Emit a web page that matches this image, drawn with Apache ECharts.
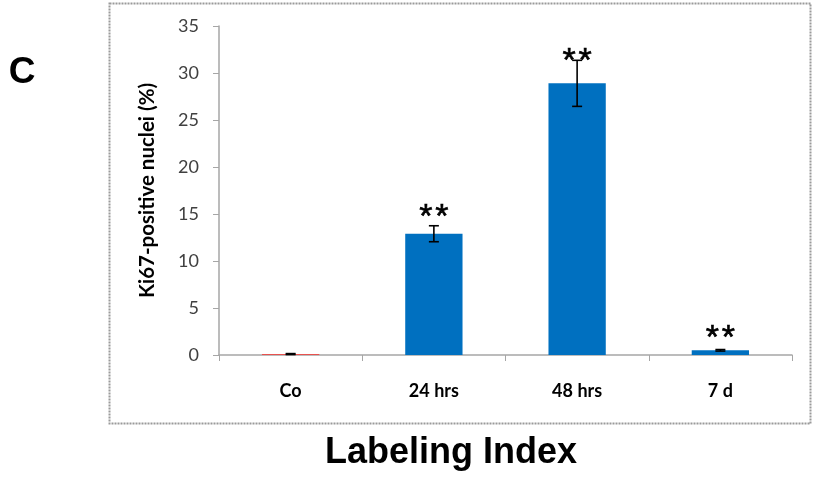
<!DOCTYPE html>
<html>
<head>
<meta charset="utf-8">
<script src="https://cdn.jsdelivr.net/npm/echarts@6/dist/echarts.min.js"></script>
<style>
html,body{margin:0;padding:0;background:#fff;}
#chart{width:814px;height:477px;}
</style>
</head>
<body>
<div id="chart"></div>
<script>
// Data
const categories = ['Co', '24 hrs', '48 hrs', '7 d'];
const values = [0.1, 12.9, 28.9, 0.5];
const errors = [0.05, 0.85, 2.45, 0.08];
const significance = ['', '**', '**', '**'];
const significanceY = [null, 15.2, 31.9, 2.4];
const yTicks = [0, 5, 10, 15, 20, 25, 30, 35];
const barColors = ['#E8524F', '#0070C0', '#0070C0', '#0070C0'];

const chart = echarts.init(document.getElementById('chart'));

const barData = values.map((v, i) => ({ value: v, itemStyle: { color: barColors[i] } }));
const errData = values.map((v, i) => [i, v, errors[i]]);
const sigData = significance.map((s, i) => [i, significanceY[i] == null ? 0 : significanceY[i]]);

chart.setOption({
  animation: false,
  backgroundColor: '#fff',
  graphic: [
    { type: 'rect', shape: { x: 109.5, y: 3.5, width: 701, height: 420 },
      style: { fill: 'none', stroke: '#9a9a9a', lineWidth: 2, lineDash: [2, 1] }, silent: true },
    { type: 'text', x: 22, y: 73,
      style: { text: 'C', font: 'bold 37px "Liberation Sans", Arial, sans-serif', fill: '#000',
        textAlign: 'center', textVerticalAlign: 'middle' } },
    { type: 'text', x: 451, y: 453,
      style: { text: 'Labeling Index', font: 'bold 36px "Liberation Sans", Arial, sans-serif', fill: '#000',
        textAlign: 'center', textVerticalAlign: 'middle' } }
  ],
  grid: { left: 219, right: 22, top: 26, bottom: 122, containLabel: false },
  xAxis: {
    type: 'category',
    data: categories,
    axisLine: { lineStyle: { color: '#a6a6a6', width: 1.5 } },
    axisTick: { show: true, length: 6, lineStyle: { color: '#a6a6a6' } },
    axisLabel: { margin: 27, fontFamily: 'Lato, "Open Sans", sans-serif', fontWeight: 'bold', fontSize: 18, color: '#000' }
  },
  yAxis: {
    type: 'value',
    min: 0, max: 35, interval: 5,
    name: 'Ki67-positive nuclei (%)',
    nameLocation: 'middle',
    nameGap: 61,
    nameRotate: 90,
    nameTextStyle: { fontFamily: 'Lato, "Open Sans", sans-serif', fontWeight: 'bold', fontSize: 20.5, color: '#000' },
    axisLine: { show: true, lineStyle: { color: '#a6a6a6', width: 1.5 } },
    axisTick: { show: true, length: 6, lineStyle: { color: '#a6a6a6' } },
    splitLine: { show: false },
    axisLabel: { margin: 20, fontFamily: 'Lato, "Open Sans", sans-serif', fontSize: 18, color: '#404040',
      formatter: v => yTicks.includes(v) ? String(v) : '' }
  },
  series: [
    { type: 'bar', data: barData, barWidth: '40%' },
    { type: 'custom', data: errData, z: 10,
      renderItem: (params, api) => {
        const i = api.value(0), v = api.value(1), e = api.value(2);
        const top = api.coord([i, v + e]);
        const bot = api.coord([i, v - e]);
        const cap = 5;
        const st = { stroke: '#000', lineWidth: 1.6 };
        return { type: 'group', children: [
          { type: 'line', shape: { x1: top[0], y1: top[1], x2: bot[0], y2: bot[1] }, style: st },
          { type: 'line', shape: { x1: top[0] - cap, y1: top[1], x2: top[0] + cap, y2: top[1] }, style: st },
          { type: 'line', shape: { x1: bot[0] - cap, y1: bot[1], x2: bot[0] + cap, y2: bot[1] }, style: st }
        ] };
      }
    },
    { type: 'custom', data: sigData, z: 11,
      renderItem: (params, api) => {
        const s = significance[params.dataIndex];
        if (!s) return { type: 'group', children: [] };
        const p = api.coord([api.value(0), api.value(1)]);
        const n = s.length, gap = 16;
        const children = [];
        for (let k = 0; k < n; k++) {
          children.push({ type: 'text', x: p[0] + (k - (n - 1) / 2) * gap, y: p[1] + 6,
            style: { text: s[k], font: '34px "Liberation Sans", Arial, sans-serif', fill: '#000',
              stroke: '#000', lineWidth: 0.6,
              textAlign: 'center', textVerticalAlign: 'middle' } });
        }
        return { type: 'group', children };
      }
    }
  ]
});
</script>
</body>
</html>
